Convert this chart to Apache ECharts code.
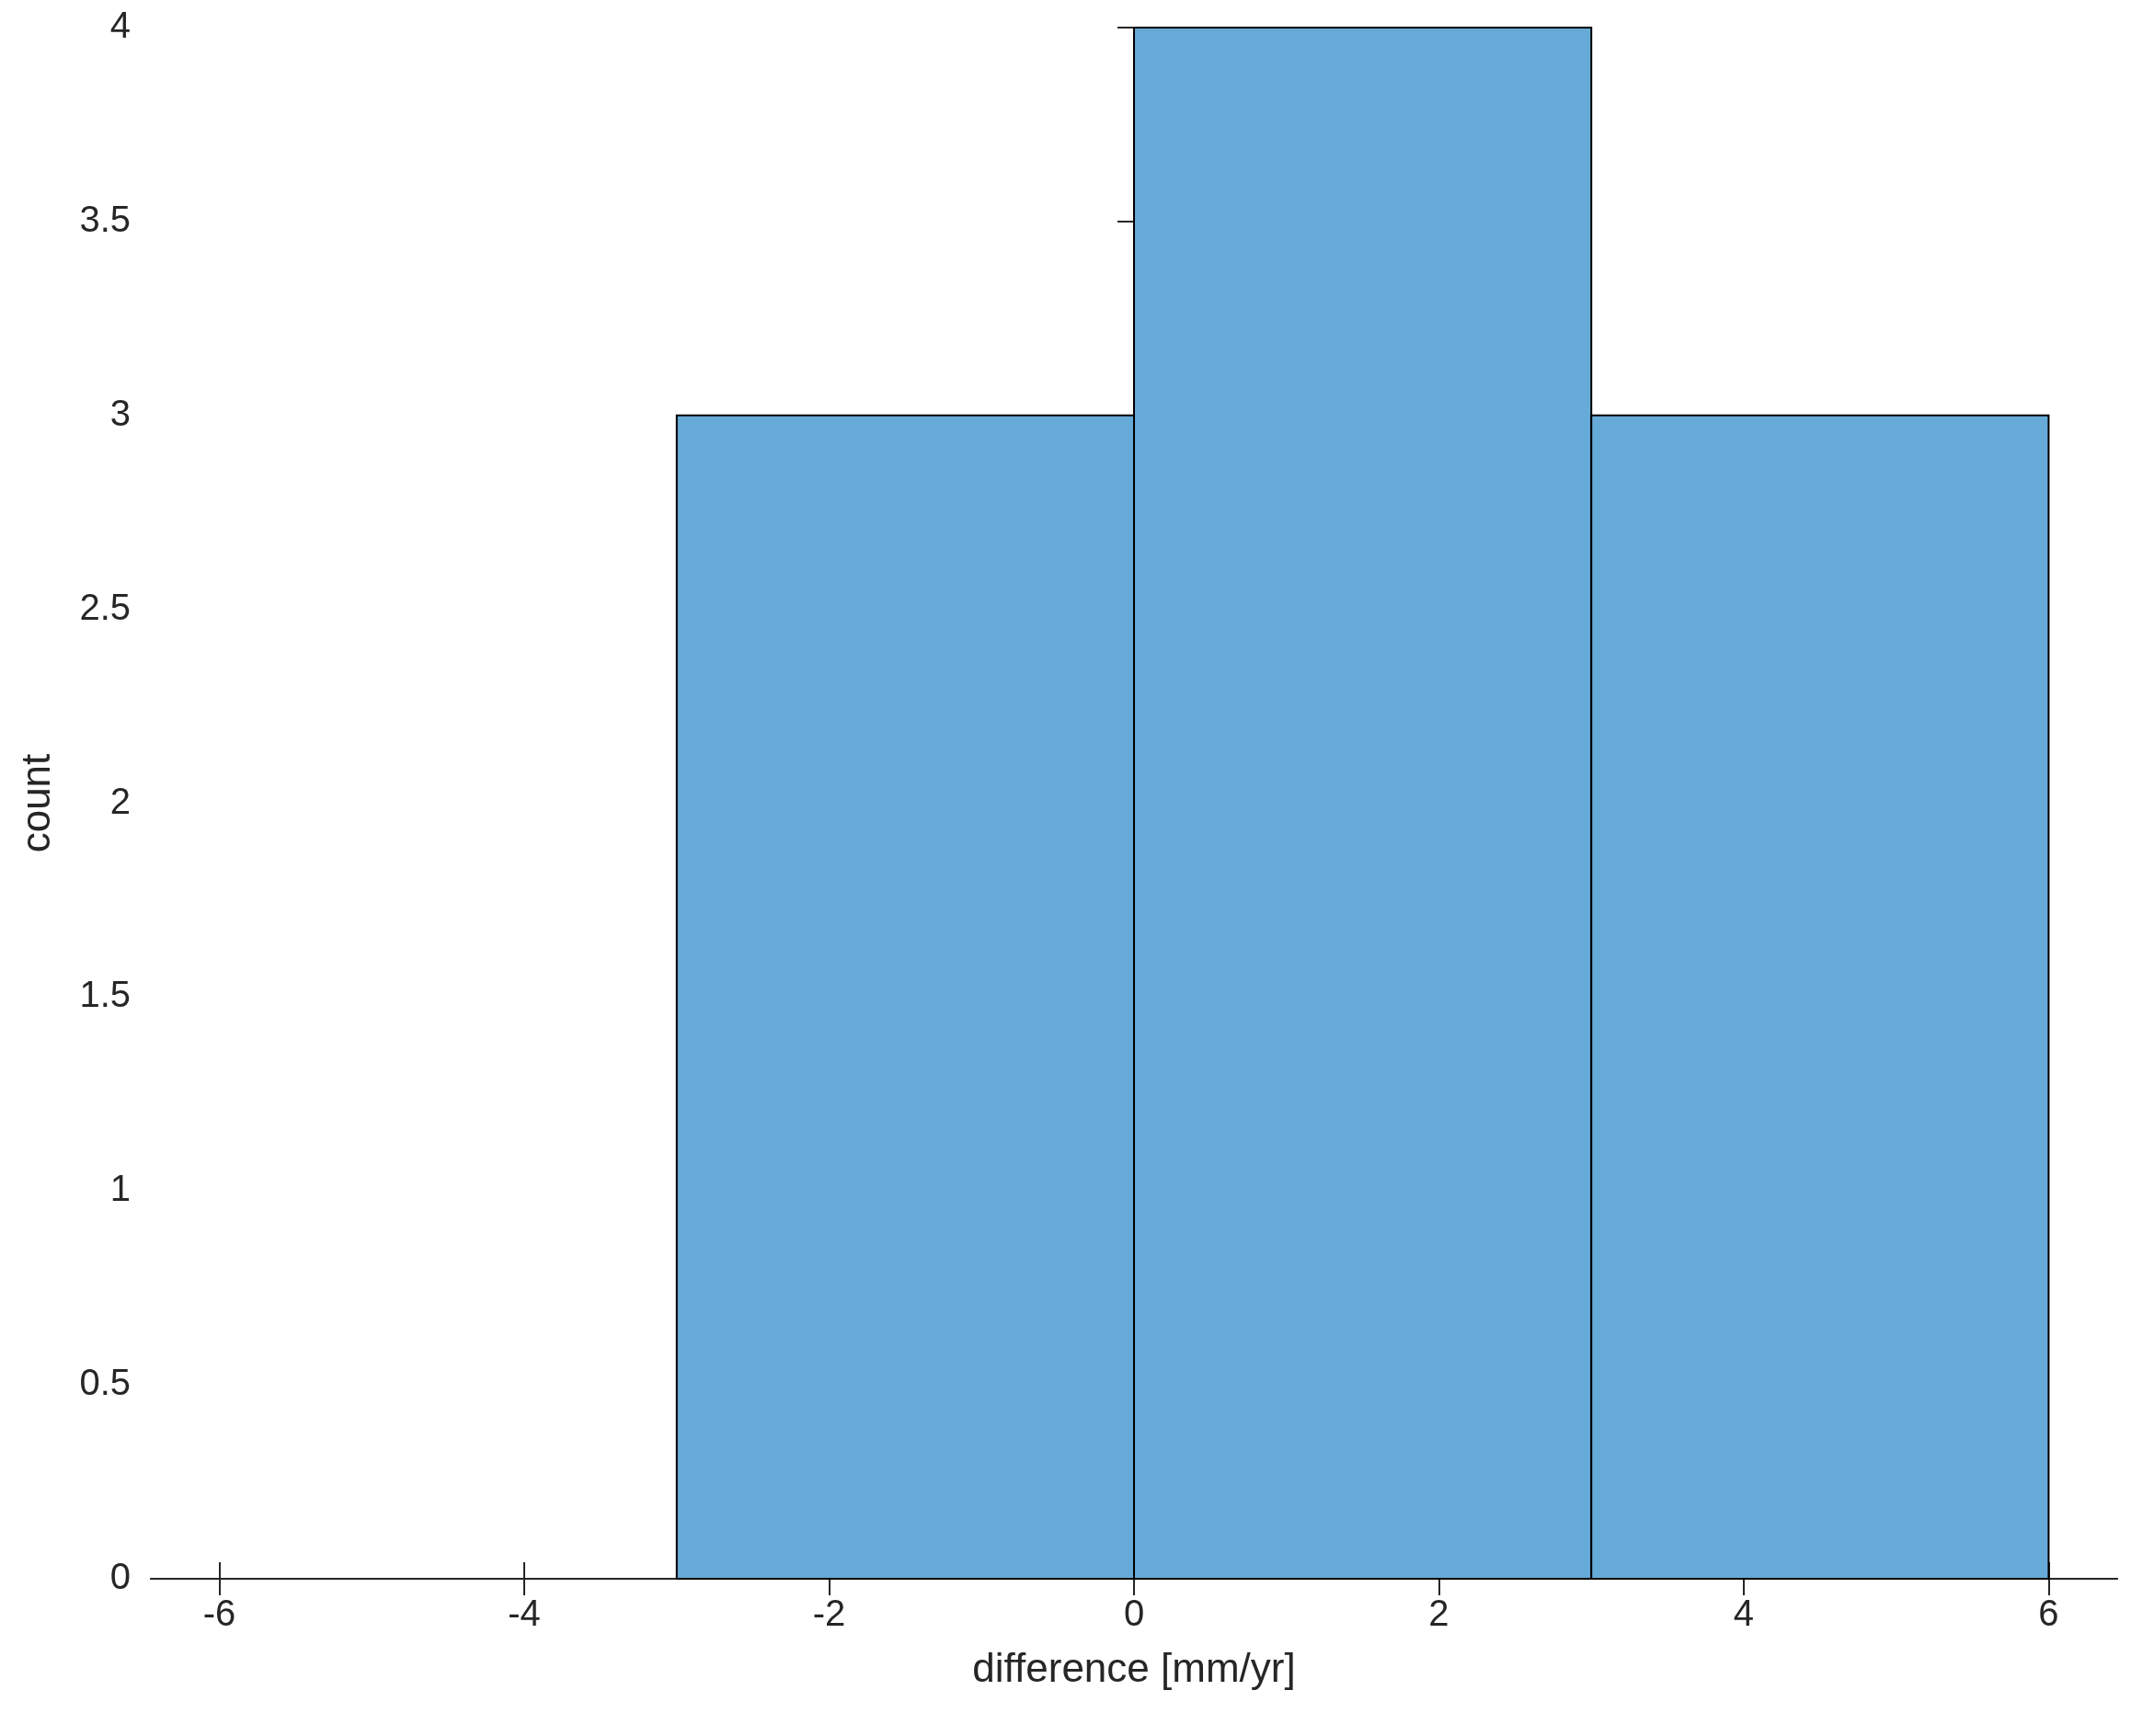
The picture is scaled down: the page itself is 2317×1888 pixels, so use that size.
<!DOCTYPE html>
<html>
<head>
<meta charset="utf-8">
<script src="https://cdn.jsdelivr.net/npm/echarts@6/dist/echarts.min.js"></script>
<style>html,body{margin:0;padding:0;background:#fff}#c{width:2317px;height:1888px}</style>
</head>
<body>
<div id="c"></div>
<script>
const binEdges = [-3, 0, 3, 6];
const counts = [3, 4, 3];
const xTicks = [-6, -4, -2, 0, 2, 4, 6];
const yTicks = [0, 0.5, 1, 1.5, 2, 2.5, 3, 3.5, 4];

const bins = counts.map((c, i) => [binEdges[i], binEdges[i + 1], c]);
const font = { fontFamily: 'Helvetica, Arial, sans-serif', color: '#262626' };
const lineStyle = { color: '#262626', width: 2 };

const chart = echarts.init(document.getElementById('c'));
chart.setOption({
    animation: false,
    grid: { left: 164, right: 15, top: 30, bottom: 171 },
    xAxis: [
        {
            type: 'value', min: -6.45, max: 6.45, position: 'bottom',
            name: 'difference [mm/yr]', nameLocation: 'middle', nameGap: 78,
            nameTextStyle: { ...font, fontSize: 44 },
            axisLine: { lineStyle },
            axisTick: { inside: true, length: 18, lineStyle, customValues: xTicks },
            axisLabel: { ...font, fontSize: 40, margin: 20, customValues: xTicks },
            splitLine: { show: false }
        },
        {
            type: 'value', min: -6.45, max: 6.45, position: 'top',
            axisLine: { lineStyle },
            axisTick: { inside: true, length: 18, lineStyle, customValues: xTicks },
            axisLabel: { show: false },
            splitLine: { show: false }
        }
    ],
    yAxis: [
        {
            type: 'value', min: 0, max: 4, interval: 0.5, position: 'left',
            name: 'count', nameLocation: 'middle', nameGap: 100,
            nameTextStyle: { ...font, fontSize: 44 },
            axisLine: { show: true, lineStyle },
            axisTick: { show: true, inside: true, length: 18, lineStyle },
            axisLabel: { ...font, fontSize: 40, margin: 22 },
            splitLine: { show: false }
        },
        {
            type: 'value', min: 0, max: 4, interval: 0.5, position: 'right',
            axisLine: { show: true, lineStyle },
            axisTick: { show: true, inside: true, length: 18, lineStyle },
            axisLabel: { show: false },
            splitLine: { show: false }
        }
    ],
    series: [{
        type: 'custom',
        data: bins,
        encode: { x: [0, 1], y: 2 },
        renderItem: (params, api) => {
            const p0 = api.coord([api.value(0), 0]);
            const p1 = api.coord([api.value(1), api.value(2)]);
            return {
                type: 'rect',
                shape: { x: p0[0], y: p1[1], width: p1[0] - p0[0], height: p0[1] - p1[1] },
                style: { fill: '#66AAD7', stroke: '#000', lineWidth: 2 }
            };
        }
    }]
});
</script>
</body>
</html>
